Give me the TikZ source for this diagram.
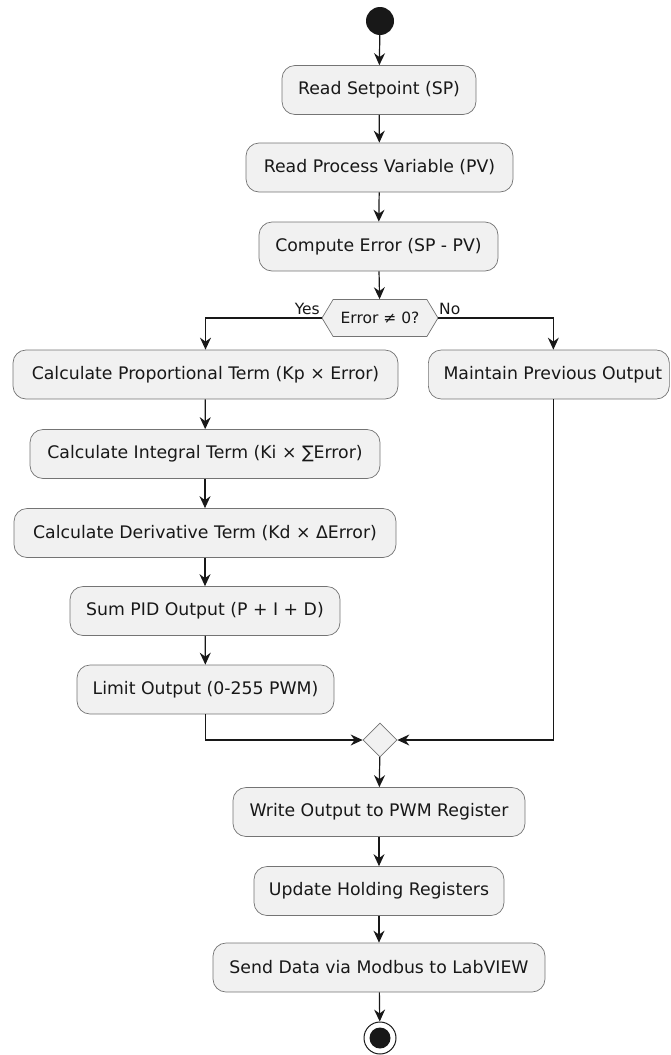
\documentclass[tikz,border=0pt]{standalone}
\usepackage{fontspec}
\setmainfont{DejaVu Sans}
\usetikzlibrary{arrows.meta,shapes.geometric,shapes.symbols}
\definecolor{boxfill}{HTML}{F1F1F1}
\definecolor{ink}{HTML}{181818}
\begin{document}
\begin{tikzpicture}[x=1pt,y=-1pt,
  act/.style={draw=ink!60, line width=0.7pt, fill=boxfill, rounded corners=13pt,
    minimum height=49pt, inner sep=0pt, text=ink, font=\fontsize{17.3}{20}\selectfont},
  flow/.style={draw=ink, line width=1.2pt, -{Stealth[length=12pt,width=11pt,inset=4pt]}},
  lbl/.style={inner sep=0pt, text=ink, font=\fontsize{15.5}{18}\selectfont},
  decision/.style={signal, signal to=west and east, signal pointer angle=118,
    draw=ink!60, line width=0.7pt, fill=boxfill, minimum width=116pt, minimum height=37pt,
    inner sep=0pt, text=ink, font=\fontsize{15.5}{18}\selectfont},
  merger/.style={diamond, draw=ink!60, line width=0.7pt, fill=boxfill, minimum size=34pt, inner sep=0pt}
]
\useasboundingbox (0,0) rectangle (670,1055);
\node[circle, fill=ink, minimum size=28pt, inner sep=0pt] (start) at (380,21) {};
\node[act, minimum width=194pt] (sp) at (379,90) {Read Setpoint (SP)};
\node[act, minimum width=267pt] (pv) at (379.5,167.5) {Read Process Variable (PV)};
\node[act, minimum width=239pt] (ce) at (378.5,246.5) {Compute Error (SP - PV)};
\node[decision] (dec) at (380,318) {Error ≠ 0?};
\node[lbl, anchor=base east] (yes) at (320,314) {Yes};
\node[lbl, anchor=base west] (no) at (439,314) {No};
\node[act, minimum width=385pt] (prop) at (205.5,374.5) {Calculate Proportional Term (Kp × Error)};
\node[act, minimum width=241pt, anchor=west] (maint) at (428,374.5) {\hspace*{8pt}Maintain Previous Output};
\node[act, minimum width=350pt] (int) at (205,454) {Calculate Integral Term (Ki × ∑Error)};
\node[act, minimum width=382pt] (der) at (205,533) {Calculate Derivative Term (Kd × ΔError)};
\node[act, minimum width=270pt] (sum) at (205,611) {Sum PID Output (P + I + D)};
\node[act, minimum width=257pt] (lim) at (205.5,689.5) {Limit Output (0-255 PWM)};
\node[merger] (merge) at (380,740) {};
\node[act, minimum width=292pt] (write) at (379,812) {Write Output to PWM Register};
\node[act, minimum width=250pt] (upd) at (379,891) {Update Holding Registers};
\node[act, minimum width=332pt] (send) at (379,967.5) {Send Data via Modbus to LabVIEW};
\node[circle, draw=ink, line width=1pt, fill=white, minimum size=32pt, inner sep=0pt] (end) at (380,1038) {};
\node[circle, fill=ink, minimum size=21pt, inner sep=0pt] (endin) at (end.center) {};

\draw[flow] (start) -- (sp);
\draw[flow] (sp) -- (pv);
\draw[flow] (pv) -- (ce);
\draw[flow] (ce) -- (dec);
\draw[flow] (dec.west) -| (prop.north);
\draw[flow] (dec.east) -| ([xshift=4.5pt]maint.north);
\draw[flow] (prop) -- (int);
\draw[flow] (int) -- (der);
\draw[flow] (der) -- (sum);
\draw[flow] (sum) -- (lim);
\draw[flow] (lim.south) |- (merge.west);
\draw[flow] ([xshift=4.5pt]maint.south) |- (merge.east);
\draw[flow] (merge) -- (write);
\draw[flow] (write) -- (upd);
\draw[flow] (upd) -- (send);
\draw[flow] (send) -- (end);
\end{tikzpicture}
\end{document}
